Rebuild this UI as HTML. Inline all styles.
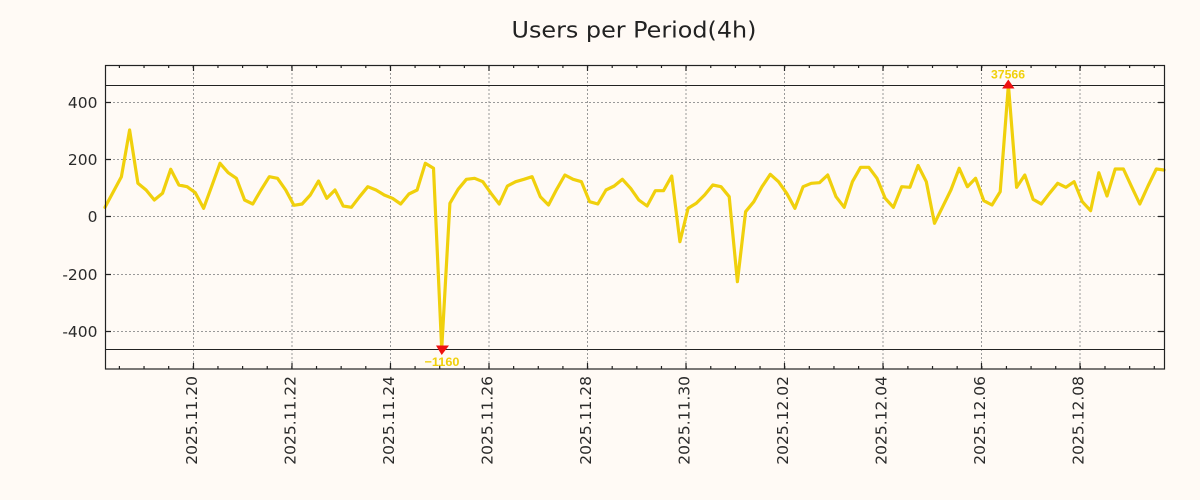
<!DOCTYPE html>
<html><head><meta charset="utf-8"><style>
html,body{margin:0;padding:0;background:#fffaf5;}
svg{display:block;}
</style></head><body>
<svg width="1200" height="500" viewBox="0 0 1200 500" xmlns="http://www.w3.org/2000/svg">
<rect x="0" y="0" width="1200" height="500" fill="#fffaf5"/>
<text x="634" y="37.7" text-anchor="middle" font-family="DejaVu Sans, sans-serif" font-size="22.5" fill="#222" textLength="245" lengthAdjust="spacingAndGlyphs">Users per Period(4h)</text>
<path fill="none" stroke="#999" stroke-width="1" stroke-dasharray="2,2" d="M105 102.5H1164M105 159.5H1164M105 216.5H1164M105 274.5H1164M105 331.5H1164M193.5 65V369M292 65V369M390.5 65V369M489 65V369M587.5 65V369M686 65V369M784.5 65V369M883 65V369M981.5 65V369M1080 65V369"/>
<path fill="none" stroke="#222" stroke-width="1" d="M105 85.5H1164M105 349.5H1164"/>
<polyline fill="none" stroke="#f0d00c" stroke-width="3.2" stroke-linejoin="round" stroke-linecap="round" points="105,207.3 113.2,192 121.4,176.7 129.6,130 137.9,183.3 146.1,190 154.3,200 162.5,193.3 170.7,169.3 178.9,185 187.1,186.7 195.3,192.7 203.6,208.3 211.8,186 220,163.3 228.2,172.7 236.4,178.3 244.6,200 252.8,204 261,190 269.3,176.7 277.5,178.3 285.7,190 293.9,205.3 302.1,204 310.3,195 318.5,181 326.8,198.3 335,190 343.2,206 351.4,207.3 359.6,196.7 367.8,186.7 376,190 384.2,195 392.5,198.3 400.7,204 408.9,194 417.1,190 425.3,163.3 433.5,168.3 441.7,349 449.9,203.3 458.1,189.3 466.4,179.3 474.6,178.3 482.8,181.7 491,193.3 499.2,204 507.4,186 515.7,181.7 523.9,179.3 532.1,176.7 540.3,196.7 548.5,205 556.7,189.3 564.9,175 573.1,179.3 581.4,181.7 589.6,201.7 597.8,204 606,190 614.2,186 622.4,179.3 630.6,188.3 638.8,200 647.1,206 655.3,190.7 663.5,190.7 671.7,176 679.9,241.7 688.1,208.3 696.3,203.3 704.6,195 712.8,185 721,186.7 729.2,196.7 737.4,281.7 745.6,211.7 753.8,201.7 762,186.7 770.3,174.3 778.5,181.7 786.7,193.3 794.9,208.3 803.1,186.7 811.3,183.3 819.5,182.7 827.7,175 836,196.7 844.2,207.3 852.4,181.7 860.6,167.3 868.8,167.3 877,178.3 885.2,198.3 893.4,207.3 901.7,186.7 909.9,187.3 918.1,165.5 926.3,181.7 934.5,223.3 942.7,206.7 950.9,190 959.2,168.3 967.4,186.7 975.6,178.3 983.8,200.7 992,205 1000.2,191.7 1008.4,85 1016.6,187.3 1024.8,175 1033.1,199.3 1041.3,204 1049.5,193.3 1057.7,183.3 1065.9,187.3 1074.1,181.7 1082.3,201.7 1090.6,210.7 1098.8,172.7 1107,196 1115.2,169 1123.4,169 1131.6,186.7 1139.8,204 1148,186 1156.3,169 1164,170"/>
<polygon points="1008.3,79.5 1014.5,88.5 1002.1,88.5" fill="#ee1111"/>
<polygon points="436,345.5 449,345.5 441.7,355" fill="#ee1111"/>
<text x="1008" y="78.3" text-anchor="middle" font-family="Liberation Sans, sans-serif" font-weight="bold" font-size="12.3" fill="#f0d00c" textLength="34" lengthAdjust="spacingAndGlyphs">37566</text>
<text x="442" y="366" text-anchor="middle" font-family="Liberation Sans, sans-serif" font-weight="bold" font-size="12.3" fill="#f0d00c" textLength="35" lengthAdjust="spacingAndGlyphs">−1160</text>
<rect x="105.5" y="65.5" width="1059" height="303.5" fill="none" stroke="#222" stroke-width="1.2"/>
<path fill="none" stroke="#222" stroke-width="1.2" d="M105 102.5h6M105 159.5h6M105 216.5h6M105 274.5h6M105 331.5h6M1164 102.5h-6M1164 159.5h-6M1164 216.5h-6M1164 274.5h-6M1164 331.5h-6"/>
<g stroke="#222" fill="none">
<line x1="118.8" x2="1164" y1="66.5" y2="66.5" stroke-width="3" stroke-dasharray="1.2 23.44"/>
<line x1="118.8" x2="1164" y1="367.5" y2="367.5" stroke-width="3" stroke-dasharray="1.2 23.44"/>
<line x1="192.9" x2="1164" y1="68" y2="68" stroke-width="6" stroke-dasharray="1.2 97.3"/>
<line x1="192.9" x2="1164" y1="366" y2="366" stroke-width="6" stroke-dasharray="1.2 97.3"/>
</g>
<g font-family="DejaVu Sans, sans-serif" font-size="15.5" fill="#2a2a2a" text-anchor="end">
<text x="97.5" y="108">400</text>
<text x="97.5" y="165.2">200</text>
<text x="97.5" y="222.2">0</text>
<text x="97.5" y="279.8">-200</text>
<text x="97.5" y="337.2">-400</text>
<text transform="translate(197,376) rotate(-90)">2025.11.20</text>
<text transform="translate(295.5,376) rotate(-90)">2025.11.22</text>
<text transform="translate(394,376) rotate(-90)">2025.11.24</text>
<text transform="translate(492.5,376) rotate(-90)">2025.11.26</text>
<text transform="translate(591,376) rotate(-90)">2025.11.28</text>
<text transform="translate(689.5,376) rotate(-90)">2025.11.30</text>
<text transform="translate(788,376) rotate(-90)">2025.12.02</text>
<text transform="translate(886.5,376) rotate(-90)">2025.12.04</text>
<text transform="translate(985,376) rotate(-90)">2025.12.06</text>
<text transform="translate(1083.5,376) rotate(-90)">2025.12.08</text>
</g>
</svg>
</body></html>
